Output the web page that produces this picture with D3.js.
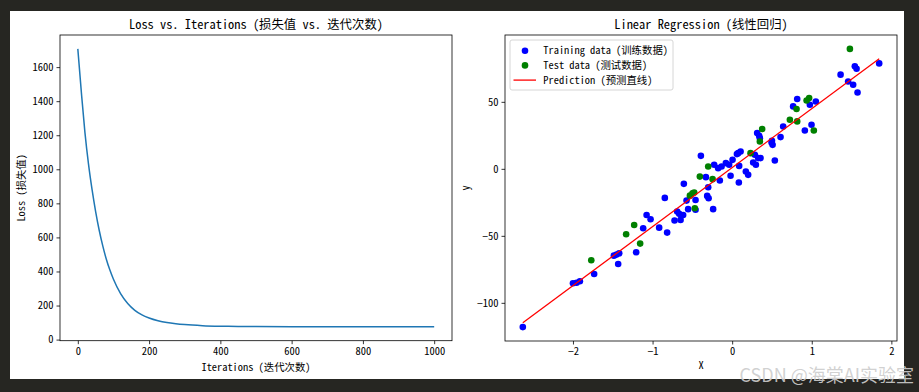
<!DOCTYPE html>
<html><head><meta charset="utf-8">
<script src="https://cdn.jsdelivr.net/npm/d3@7/dist/d3.min.js"></script>
<style>
body{margin:0;background:#262622;overflow:hidden}
text{font-family:"Noto Sans Mono CJK SC","Noto Sans CJK SC","DejaVu Sans Mono",monospace;fill:#000}
</style>
</head><body><svg id="c" width="919" height="392"></svg>
<script>
// ---- data ----
const iterations = [0,10,20,30,40,50,60,70,80,90,100,120,140,160,180,200,225,250,275,300,350,400,450,500,600,700,800,900,1000];
const lossValues = [1707,1450,1215,1030,880,752,642,550,472,408,354,270,212,172,145,127,111,100,93,88,82,79,77.5,76.5,75.6,75.3,75.2,75.1,75.1];
const lossXTicks = [0,200,400,600,800,1000];
const lossYTicks = [0,200,400,600,800,1000,1200,1400,1600];

const trainX = [-2.63,-2.00,-1.955,-1.913,-1.734,-1.486,-1.452,-1.419,-1.432,-1.206,-1.118,-1.075,-1.025,-0.917,-0.817,-0.846,-0.724,-0.691,-0.666,-0.648,-0.616,-0.607,-0.553,-0.573,-0.460,-0.460,-0.314,-0.296,-0.239,-0.301,-0.393,-0.330,-0.226,-0.176,-0.133,-0.155,-0.079,-0.038,0.005,-0.020,0.075,0.106,0.088,0.084,0.172,0.201,0.285,0.327,0.357,0.264,0.298,0.314,0.339,0.348,0.495,0.508,0.536,0.608,0.641,0.766,0.817,0.913,0.997,0.976,1.051,1.362,1.457,1.520,1.541,1.563,1.575,1.847,0.060,0.500];
const trainY = [-118.1,-85.4,-85.0,-83.9,-78.5,-64.8,-64.0,-63.0,-71.0,-62.3,-44.3,-34.4,-37.6,-43.9,-47.6,-21.7,-38.6,-31.9,-33.6,-38.1,-34.4,-11.2,-30.1,-23.7,-23.2,-30.5,-20.2,-21.9,-30.1,-13.7,9.7,-6.2,3.0,0.5,1.7,-8.7,4.3,3.0,6.7,-5.2,11.7,12.9,2.2,-10.2,-2.0,-4.5,10.5,8.0,8.0,4.7,3.0,26.7,24.7,22.9,19.7,17.9,6.2,23.7,31.6,46.6,52.1,28.6,32.9,47.8,50.3,70.3,65.2,62.8,76.5,74.7,57.0,78.7,11.0,20.9];
const testX = [-1.77,-1.332,-1.231,-1.156,-0.531,-0.498,-0.477,-0.469,-0.301,-0.406,-0.246,0.231,0.377,0.348,0.725,0.817,0.809,1.026,0.935,0.967,1.479];
const testY = [-68.2,-48.8,-41.9,-55.8,-20.0,-18.2,-17.7,-29.4,1.7,-5.8,-7.7,11.7,29.7,20.4,36.6,35.4,44.6,28.6,51.0,52.8,89.5];
const predX = [-2.63,1.847];
const predY = [-114.9,82.2];
const regXTicks = [-2,-1,0,1,2];
const regYTicks = [-100,-50,0,50];
const legendLabels = ["Training data (训练数据)","Test data (测试数据)","Prediction (预测直线)"];

// ---- drawing ----
const svg = d3.select("#c");
svg.append("rect").attr("width",919).attr("height",392).attr("fill","#262622");
svg.append("rect").attr("x",10).attr("y",11).attr("width",894).attr("height",368).attr("fill","#fff");

const fmt = d => (d<0 ? "\u2212"+Math.abs(d) : String(d));
function pad(ext){const m=(ext[1]-ext[0])*0.05;return [ext[0]-m,ext[1]+m];}

function axes(box, xs, ys, xt, yt){
  const g = svg.append("g");
  g.append("g").attr("transform",`translate(0,${box.b})`)
    .call(d3.axisBottom(xs).tickValues(xt).tickFormat(fmt).tickSize(3.5).tickPadding(3).tickSizeOuter(0))
    .call(a=>{a.select(".domain").remove();a.selectAll("text").attr("font-size","10.5px").attr("fill","#000");a.selectAll("line").attr("stroke","#000").attr("stroke-width",0.8);});
  g.append("g").attr("transform",`translate(${box.l},0)`)
    .call(d3.axisLeft(ys).tickValues(yt).tickFormat(fmt).tickSize(3.5).tickPadding(3).tickSizeOuter(0))
    .call(a=>{a.select(".domain").remove();a.selectAll("text").attr("font-size","10.5px").attr("fill","#000");a.selectAll("line").attr("stroke","#000").attr("stroke-width",0.8);});
  return g;
}
function spines(box){
  svg.append("rect").attr("x",box.l).attr("y",box.t).attr("width",box.r-box.l).attr("height",box.b-box.t)
    .attr("fill","none").attr("stroke","#000").attr("stroke-width",0.8);
}

// Left: loss
const L = {l:60,t:35,r:452,b:340.7};
const lx = d3.scaleLinear().domain(pad(d3.extent(iterations))).range([L.l,L.r]);
const ly = d3.scaleLinear().domain(pad(d3.extent(lossValues))).range([L.b,L.t]);
axes(L,lx,ly,lossXTicks,lossYTicks);
svg.append("path").datum(iterations.map((d,i)=>[d,lossValues[i]]))
  .attr("d",d3.line().x(d=>lx(d[0])).y(d=>ly(d[1])).curve(d3.curveMonotoneX))
  .attr("fill","none").attr("stroke","#1f77b4").attr("stroke-width",1.5);
spines(L);
svg.append("text").attr("x",(L.l+L.r)/2).attr("y",28.5).attr("text-anchor","middle").attr("font-size","12.4px").text("Loss vs. Iterations (损失值 vs. 迭代次数)");
svg.append("text").attr("x",(L.l+L.r)/2).attr("y",370.5).attr("text-anchor","middle").attr("font-size","10.4px").text("Iterations (迭代次数)");
svg.append("text").attr("transform",`translate(24.5,${(L.t+L.b)/2}) rotate(-90)`).attr("text-anchor","middle").attr("font-size","10.4px").text("Loss (损失值)");

// Right: regression
const R = {l:505,t:35,r:897,b:341};
const allX = trainX.concat(testX,predX), allY = trainY.concat(testY,predY);
const rx = d3.scaleLinear().domain(pad(d3.extent(allX))).range([R.l,R.r]);
const ry = d3.scaleLinear().domain(pad(d3.extent(allY))).range([R.b,R.t]);
axes(R,rx,ry,regXTicks,regYTicks);
svg.append("clipPath").attr("id","cr").append("rect").attr("x",R.l).attr("y",R.t).attr("width",R.r-R.l).attr("height",R.b-R.t);
const pg = svg.append("g").attr("clip-path","url(#cr)");
pg.selectAll(".tr").data(trainX.map((d,i)=>[d,trainY[i]])).join("circle")
  .attr("cx",d=>rx(d[0])).attr("cy",d=>ry(d[1])).attr("r",3.3).attr("fill","#0000ff");
pg.selectAll(".te").data(testX.map((d,i)=>[d,testY[i]])).join("circle")
  .attr("cx",d=>rx(d[0])).attr("cy",d=>ry(d[1])).attr("r",3.3).attr("fill","#008000");
pg.append("path").datum(predX.map((d,i)=>[d,predY[i]]))
  .attr("d",d3.line().x(d=>rx(d[0])).y(d=>ry(d[1])))
  .attr("fill","none").attr("stroke","#ff0000").attr("stroke-width",1.3);
spines(R);
svg.append("text").attr("x",(R.l+R.r)/2).attr("y",29).attr("text-anchor","middle").attr("font-size","12.4px").text("Linear Regression (线性回归)");
svg.append("text").attr("x",(R.l+R.r)/2).attr("y",369).attr("text-anchor","middle").attr("font-size","10.4px").text("X");
svg.append("text").attr("transform",`translate(469,${(R.t+R.b)/2}) rotate(-90)`).attr("text-anchor","middle").attr("font-size","10.4px").text("y");

// legend
const lg = svg.append("g");
lg.append("rect").attr("x",510).attr("y",40).attr("width",163).attr("height",50).attr("rx",2)
  .attr("fill","#fff").attr("fill-opacity",0.8).attr("stroke","#ccc").attr("stroke-width",0.8);
const legendColors = ["#0000ff","#008000","#ff0000"];
legendLabels.forEach((t,i)=>{
  const y = 50.7 + i*14.7;
  if(i<2) lg.append("circle").attr("cx",525).attr("cy",y).attr("r",3.3).attr("fill",legendColors[i]);
  else lg.append("line").attr("x1",513.5).attr("x2",536).attr("y1",y).attr("y2",y).attr("stroke",legendColors[i]).attr("stroke-width",1.3);
  lg.append("text").attr("x",543.3).attr("y",y+3.7).attr("font-size","10.4px").text(t);
});

// watermark
svg.append("text").attr("x",914).attr("y",382).attr("text-anchor","end")
  .style("font-family","'Noto Sans CJK SC','Noto Sans',sans-serif").attr("font-size","18px")
  .style("fill","rgba(205,205,205,0.92)").text("CSDN @海棠AI实验室");
</script></body></html>
